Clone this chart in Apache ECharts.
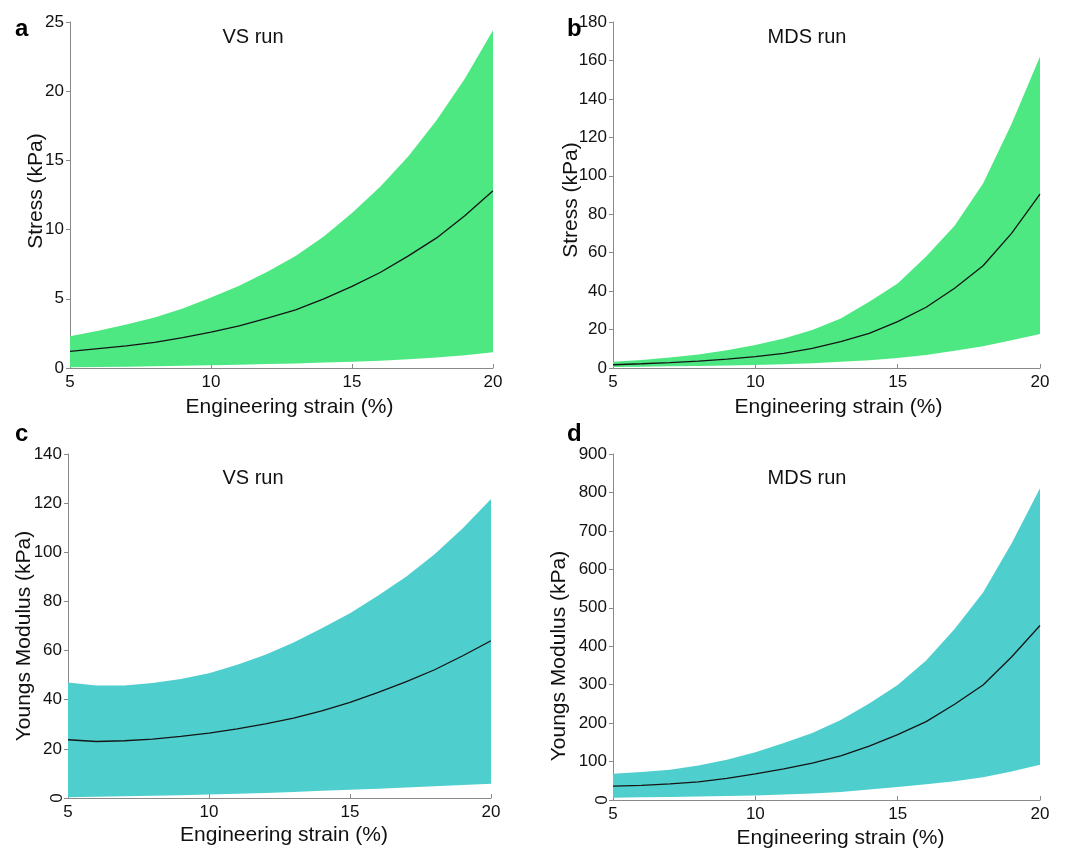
<!DOCTYPE html>
<html>
<head>
<meta charset="utf-8">
<script src="https://cdn.jsdelivr.net/npm/echarts@6/dist/echarts.min.js"></script>
<style>
html,body{margin:0;padding:0;background:#fff;}
#chart{width:1069px;height:850px;}
</style>
</head>
<body>
<div id="chart"></div>
<script>
// ---- data ----
var strain = [5,6,7,8,9,10,11,12,13,14,15,16,17,18,19,20];

var aUpper = [2.3,2.7,3.15,3.65,4.3,5.1,5.95,6.95,8.1,9.5,11.2,13.1,15.3,17.9,20.9,24.4];
var aMean  = [1.2,1.4,1.6,1.85,2.2,2.6,3.05,3.6,4.2,5.0,5.9,6.9,8.1,9.4,11.0,12.8];
var aLower = [0.05,0.07,0.09,0.12,0.16,0.2,0.24,0.28,0.33,0.39,0.45,0.53,0.63,0.76,0.92,1.13];

var bUpper = [3.2,4.2,5.4,7.0,9.2,12,15.4,19.8,25.8,34.5,44,58,74,96,127,162];
var bMean  = [1.7,2.2,2.8,3.6,4.6,5.9,7.6,10.2,13.7,18,24.1,31.6,41.5,53.2,70,90.5];
var bLower = [0.55,0.7,0.85,1.05,1.3,1.6,2.0,2.5,3.2,4.0,5.2,6.8,9.0,11.3,14.4,17.7];

var cUpper = [47.0,45.8,45.8,46.8,48.4,50.8,54.2,58.3,63.3,69.1,75.2,82.4,90.1,99.2,109.8,121.7];
var cMean  = [23.7,23.0,23.3,24.0,25.1,26.4,28.1,30.2,32.5,35.5,38.9,43.0,47.4,52.2,57.9,64.0];
var cLower = [0.3,0.5,0.7,0.9,1.1,1.4,1.7,2.0,2.4,2.9,3.4,3.8,4.3,4.8,5.3,5.8];

var dUpper = [68,73,79,90,105,124,148,174,208,251,299,363,445,540,667,811];
var dMean  = [36,38,42,47,56,68,81,96,115,140,170,204,249,299,372,454];
var dLower = [6,7,8,9,10.5,12,14,17,21,27,34,41,49,59,74,92];

var panelTitles = ['VS run','MDS run','VS run','MDS run'];
var panelLetters = ['a','b','c','d'];
var yNames = ['Stress (kPa)','Stress (kPa)','Youngs Modulus (kPa)','Youngs Modulus (kPa)'];
var xName = 'Engineering strain (%)';
var yMax = [25,180,140,900];
var yInterval = [5,20,20,100];

// ---- layout/style ----
var GREEN = '#4de882', TEAL = '#4fcece', AXIS = '#8a8a8a';
var FONT = 'Liberation Sans, Arial, sans-serif';
var grids = [
  {left:70, top:22, width:423, height:346},
  {left:613, top:22, width:427, height:346},
  {left:68, top:454, width:423, height:344},
  {left:613, top:454, width:427, height:348}
];
var yNamePad = [[0,0,0,8],[0,10,0,0],[0,20,0,0],[0,58,0,0]];
var yNameGap = [23,31,33,43];
var xNamePad = [[0,0,0,16],[0,0,0,24],[0,0,0,9],[0,0,0,28]];
var xNameGap = [29,29,27,28];
var sets = [[aLower,aUpper,aMean],[bLower,bUpper,bMean],[cLower,cUpper,cMean],[dLower,dUpper,dMean]];
var fills = [GREEN,GREEN,TEAL,TEAL];

function pairs(arr){ return strain.map(function(s,i){ return [s, arr[i]]; }); }
function bandRows(lo,hi){ return strain.map(function(s,i){ return [s, lo[i], hi[i]]; }); }

function makeBandRender(color){
  return function(params, api){
    if (params.dataIndexInside !== 0) return null;
    var n = params.dataInsideLength;
    var top = [], bot = [];
    for (var i=0;i<n;i++){
      var x = api.value(0,i);
      top.push(api.coord([x, api.value(2,i)]));
      bot.push(api.coord([x, api.value(1,i)]));
    }
    var pts = top.concat(bot.reverse());
    return {type:'polygon', shape:{points:pts}, style:{fill:color, stroke:null}, silent:true};
  };
}

var xAxes=[], yAxes=[], series=[];
for (var k=0;k<4;k++){
  xAxes.push({
    type:'value', gridIndex:k, min:5, max:20, interval:5,
    name:xName, nameLocation:'middle', nameGap:xNameGap[k], nameMoveOverlap:false,
    nameTextStyle:{fontFamily:FONT,fontSize:21,color:'#111',padding:xNamePad[k]},
    axisLine:{show:true,lineStyle:{color:AXIS,width:1}},
    axisTick:{show:true,inside:true,length:4,lineStyle:{color:AXIS}},
    axisLabel:{fontFamily:FONT,fontSize:17,color:'#111',margin:6},
    splitLine:{show:false}
  });
  yAxes.push({
    type:'value', gridIndex:k, min:0, max:yMax[k], interval:yInterval[k],
    name:yNames[k], nameLocation:'middle', nameGap:yNameGap[k], nameRotate:90, nameMoveOverlap:false,
    nameTextStyle:{fontFamily:FONT,fontSize:21,color:'#111',padding:yNamePad[k]},
    axisLine:{show:true,lineStyle:{color:AXIS,width:1}},
    axisTick:{show:true,inside:false,length:4,lineStyle:{color:AXIS}},
    axisLabel:{fontFamily:FONT,fontSize:17,color:'#111',margin:6,
      formatter: (k>=2) ? function(v){ return v===0 ? '' : String(v); } : null},
    splitLine:{show:false}
  });
  var s = sets[k];
  series.push({
    type:'custom', xAxisIndex:k, yAxisIndex:k, data:bandRows(s[0],s[1]),
    encode:{x:0, y:[1,2]}, renderItem:makeBandRender(fills[k]), silent:true, z:1
  });
  series.push({
    type:'line', xAxisIndex:k, yAxisIndex:k, data:pairs(s[2]),
    symbol:'none', lineStyle:{width:1.3, color:'#151515'}, silent:true, z:3
  });
}

var titleTexts = [];
var titlePos = [[248,22],[802,22],[248,463],[802,463]];
var letterPos = [[10,12],[562,12],[10,417],[562,417]];
for (var t=0;t<4;t++){
  titleTexts.push({text:panelTitles[t], left:titlePos[t][0], top:titlePos[t][1], textAlign:'center',
    textStyle:{fontFamily:FONT,fontSize:20,fontWeight:'normal',color:'#111'}});
  titleTexts.push({text:panelLetters[t], left:letterPos[t][0], top:letterPos[t][1],
    textStyle:{fontFamily:FONT,fontSize:24,fontWeight:'bold',color:'#000'}});
}

var chart = echarts.init(document.getElementById('chart'), null, {renderer:'canvas'});
chart.setOption({
  backgroundColor:'#fff',
  animation:false,
  title:titleTexts,
  grid:grids,
  xAxis:xAxes,
  yAxis:yAxes,
  series:series
});

// rotated "0" labels on the Young's modulus panels (as in the original)
var zeroLabels = [];
[2,3].forEach(function(g){
  var p = chart.convertToPixel({gridIndex:g}, [5,0]);
  zeroLabels.push({type:'text', x:p[0]-11, y:p[1], rotation:Math.PI/2,
    style:{text:'0', fontFamily:FONT, fontSize:17, fill:'#111', align:'center', verticalAlign:'middle'}});
});
chart.setOption({graphic:zeroLabels});
</script>
</body>
</html>
